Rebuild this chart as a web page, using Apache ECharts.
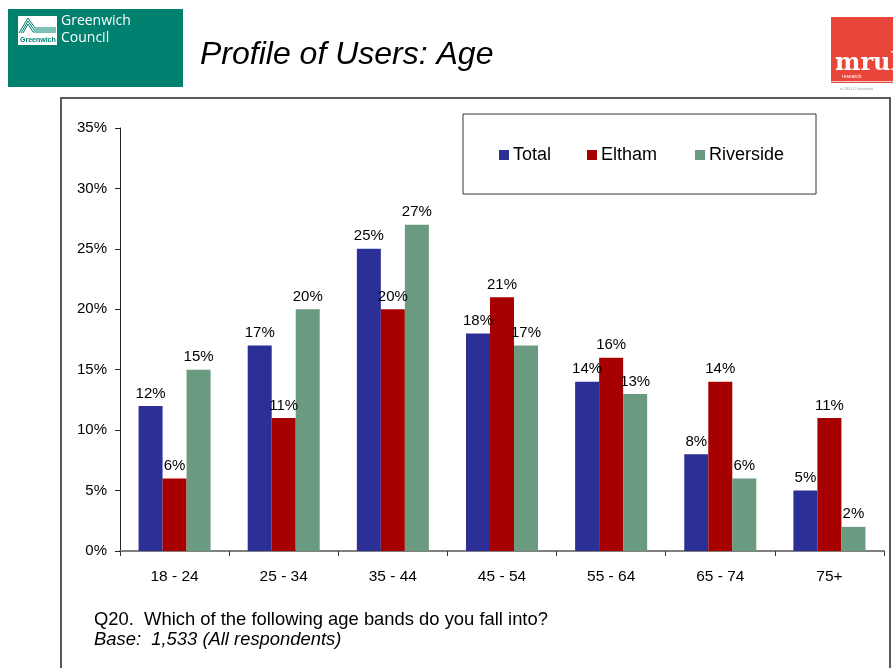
<!DOCTYPE html>
<html>
<head>
<meta charset="utf-8">
<title>Profile of Users: Age</title>
<script src="https://cdn.jsdelivr.net/npm/echarts@6/dist/echarts.min.js"></script>
<style>
  html, body { margin: 0; padding: 0; background: #ffffff; }
  #chart { width: 893px; height: 668px; }
</style>
</head>
<body>
<div id="chart"></div>
<script>
// Age bands and share of respondents (%) in each, per area
const categories = ['18 - 24', '25 - 34', '35 - 44', '45 - 54', '55 - 64', '65 - 74', '75+'];
const totalValues = [12, 17, 25, 18, 14, 8, 5];
const elthamValues = [6, 11, 20, 21, 16, 14, 11];
const riversideValues = [15, 20, 27, 17, 13, 6, 2];
const seriesNames = ['Total', 'Eltham', 'Riverside'];
const seriesColors = ['#2b2f96', '#a60000', '#6a9a80'];

const FONT = '"Liberation Sans", Arial, sans-serif';

const chart = echarts.init(document.getElementById('chart'), null, { renderer: 'canvas' });

function barSeries(name, values, color) {
  return {
    name: name,
    type: 'bar',
    data: values,
    barGap: '0%',
    barCategoryGap: '34%',
    itemStyle: { color: color },
    label: {
      show: true,
      position: 'top',
      distance: 5,
      formatter: '{c}%',
      color: '#000',
      fontSize: 15,
      fontFamily: FONT
    },
    emphasis: { disabled: true }
  };
}

function legendAt(name, left) {
  return {
    data: [name],
    left: left,
    top: 146,
    itemWidth: 10,
    itemHeight: 10,
    itemGap: 0,
    padding: 0,
    icon: 'rect',
    selectedMode: false,
    textStyle: { fontSize: 18, fontFamily: FONT, color: '#000', padding: [0, 0, 0, -1] }
  };
}

const option = {
  animation: false,
  backgroundColor: '#ffffff',
  textStyle: { fontFamily: FONT },
  grid: { left: 120, right: 9, top: 128, bottom: 117, containLabel: false },
  legend: [legendAt('Total', 499), legendAt('Eltham', 587), legendAt('Riverside', 695)],
  xAxis: {
    type: 'category',
    data: categories,
    axisLine: { lineStyle: { color: '#808080', width: 2 } },
    axisTick: { show: true, length: 5, lineStyle: { color: '#333' } },
    axisLabel: { color: '#000', fontSize: 15.5, fontFamily: FONT, margin: 18 }
  },
  yAxis: {
    type: 'value',
    min: 0,
    max: 35,
    interval: 5,
    axisLine: { show: true, lineStyle: { color: '#222', width: 1 } },
    axisTick: { show: true, length: 5, lineStyle: { color: '#222' } },
    axisLabel: { formatter: '{value}%', color: '#000', fontSize: 15, fontFamily: FONT, margin: 13 },
    splitLine: { show: false }
  },
  series: [
    barSeries(seriesNames[0], totalValues, seriesColors[0]),
    barSeries(seriesNames[1], elthamValues, seriesColors[1]),
    barSeries(seriesNames[2], riversideValues, seriesColors[2])
  ],
  graphic: [
    // outer frame of the chart panel
    { type: 'rect', shape: { x: 61, y: 98, width: 829, height: 620 },
      style: { fill: 'none', stroke: '#5a5a5a', lineWidth: 2 }, silent: true, z: -1 },
    // legend box
    { type: 'rect', shape: { x: 463, y: 114, width: 353, height: 80 },
      style: { fill: 'none', stroke: '#333', lineWidth: 1 }, silent: true },
    // Greenwich Council badge
    { type: 'rect', shape: { x: 8, y: 9, width: 175, height: 78 },
      style: { fill: '#00806f' }, silent: true },
    { type: 'rect', shape: { x: 18, y: 16, width: 39, height: 29 },
      style: { fill: '#ffffff' }, silent: true },
    { type: 'polyline', shape: { points: [[19, 33], [28, 18], [35, 28], [56, 28]] },
      style: { fill: 'none', stroke: '#00806f', lineWidth: 1 }, silent: true },
    { type: 'polyline', shape: { points: [[21, 33], [28, 21], [34, 30], [56, 30]] },
      style: { fill: 'none', stroke: '#00806f', lineWidth: 1 }, silent: true },
    { type: 'polyline', shape: { points: [[23, 33], [28, 24], [33, 32], [56, 32]] },
      style: { fill: 'none', stroke: '#00806f', lineWidth: 1 }, silent: true },
    { type: 'text', left: 20, top: 37,
      style: { text: 'Greenwich', fill: '#00806f', font: 'bold 7px ' + FONT }, silent: true },
    { type: 'text', left: 61, top: 14,
      style: { text: 'Greenwich', fill: '#ffffff', font: '14px "Open Sans", ' + FONT }, silent: true },
    { type: 'text', left: 61, top: 31,
      style: { text: 'Council', fill: '#ffffff', font: '14px "Open Sans", ' + FONT }, silent: true },
    // page title
    { type: 'text', left: 200, top: 39,
      style: { text: 'Profile of Users: Age', fill: '#000', font: 'italic 32px ' + FONT }, silent: true },
    // mrul research badge
    { type: 'rect', shape: { x: 831, y: 17, width: 62, height: 66 },
      style: { fill: '#e8463a' }, silent: true },
    { type: 'text', left: 835, top: 52,
      style: { text: 'mrul', fill: '#ffffff', font: 'bold 24px "DejaVu Serif", serif' }, silent: true },
    { type: 'text', left: 842, top: 74,
      style: { text: 'research', fill: '#ffffff', font: '5px ' + FONT }, silent: true },
    { type: 'rect', shape: { x: 831, y: 81, width: 62, height: 1 },
      style: { fill: '#f6c9c4' }, silent: true },
    { type: 'text', left: 840, top: 87,
      style: { text: 'a CELLO business', fill: '#999', font: '4px ' + FONT }, silent: true },
    // question footnote
    { type: 'text', left: 94, top: 611,
      style: { text: 'Q20.  Which of the following age bands do you fall into?', fill: '#000', font: '18.4px ' + FONT }, silent: true },
    { type: 'text', left: 94, top: 631,
      style: { text: 'Base:  1,533 (All respondents)', fill: '#000', font: 'italic 18.4px ' + FONT }, silent: true }
  ]
};

chart.setOption(option);
</script>
</body>
</html>
